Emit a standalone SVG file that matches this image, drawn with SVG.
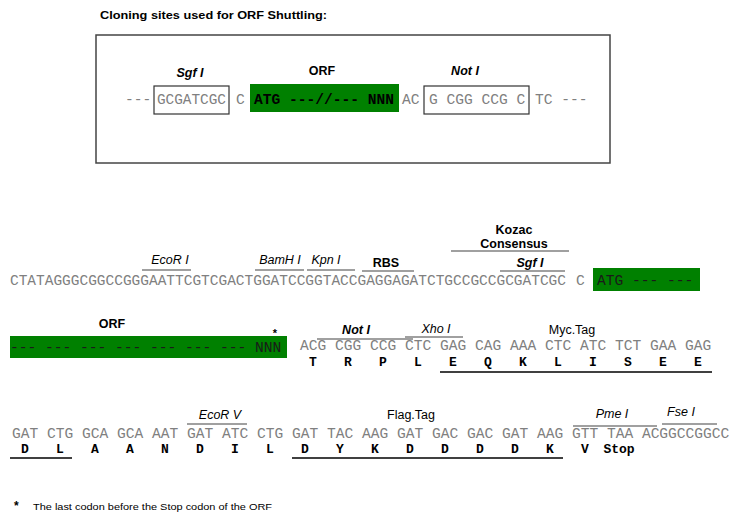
<svg xmlns="http://www.w3.org/2000/svg" width="734" height="523" viewBox="0 0 734 523">
<style>
.seq{font-family:"Liberation Mono","Courier New",monospace;font-size:14.58px;fill:#808080}
.dk{font-family:"Liberation Mono","Courier New",monospace;font-size:14.58px;fill:#1a1a1a}
.bseq{font-family:"Liberation Mono","Courier New",monospace;font-size:14.58px;font-weight:bold;fill:#000}
.aa{font-family:"Liberation Mono","Courier New",monospace;font-size:13px;font-weight:bold;fill:#000;text-anchor:middle}
.lab{font-family:"Liberation Sans",Arial,sans-serif;font-size:12.5px;fill:#000;text-anchor:middle}
.it{font-style:italic}
.b{font-weight:bold}
.ol{stroke:#808080;stroke-width:1.5;fill:none}
.ul{stroke:#000;stroke-width:1.5;fill:none}
.grn{fill:#008000}
.box{fill:none;stroke:#333;stroke-width:1.2}
</style>
<rect width="734" height="523" fill="#fff"/>

<g id="title">
<text x="100" y="19" font-family="Liberation Sans,Arial,sans-serif" font-size="11" font-weight="bold" textLength="227" lengthAdjust="spacingAndGlyphs">Cloning sites used for ORF Shuttling:</text>
</g>

<g id="shuttle-box">
<rect x="96" y="35" width="514" height="128" fill="none" stroke="#444" stroke-width="1.5"/>
<text class="lab it b" x="190" y="77" font-size="14">Sgf I</text>
<text class="lab b" x="322" y="75" font-size="14">ORF</text>
<text class="lab it b" x="465" y="75" font-size="14">Not I</text>
<text class="seq" x="125" y="104">---</text>
<rect class="box" x="154" y="86" width="75" height="28"/>
<text class="seq" x="157" y="104" textLength="69" lengthAdjust="spacingAndGlyphs">GCGATCGC</text>
<text class="seq" x="236" y="104">C</text>
<rect class="grn" x="250" y="84" width="149" height="28"/>
<text class="bseq" x="254" y="104" xml:space="preserve">ATG ---//--- NNN</text>
<text class="seq" x="402" y="104">AC</text>
<rect class="box" x="424" y="86" width="105" height="28"/>
<text class="seq" x="429" y="104" xml:space="preserve">G CGG CCG C</text>
<text class="seq" x="535" y="104" xml:space="preserve">TC ---</text>
</g>

<g id="row1">
<text class="seq" x="10" y="285" textLength="556" lengthAdjust="spacingAndGlyphs">CTATAGGGCGGCCGGGAATTCGTCGACTGGATCCGGTACCGAGGAGATCTGCCGCCGCGATCGC</text>
<text class="seq" x="576" y="285">C</text>
<rect class="grn" x="593" y="268" width="107" height="23"/>
<text class="dk" x="597" y="285" xml:space="preserve">ATG --- ---</text>
<text class="lab it" x="170" y="264">EcoR I</text>
<text class="lab it" x="280" y="264">BamH I</text>
<text class="lab it" x="326" y="264">Kpn I</text>
<text class="lab b" x="386" y="267" font-size="13.5">RBS</text>
<text class="lab it b" x="530" y="267" font-size="13.5">Sgf I</text>
<text class="lab b" x="514" y="234" font-size="13.5">Kozac</text>
<text class="lab b" x="514" y="248" font-size="9.5">Consensus</text>
</g>

<g id="row2">
<rect class="grn" x="10" y="336" width="277" height="22"/>
<text class="dk" x="10" y="352" xml:space="preserve">--- --- --- --- --- --- --- NNN</text>
<text x="275" y="337" font-family="Liberation Sans,Arial,sans-serif" font-size="11" font-weight="bold" text-anchor="middle">*</text>
<text class="lab b" x="112" y="328" font-size="13.5">ORF</text>
<text class="seq" x="300" y="350" xml:space="preserve">ACG CGG CCG CTC GAG CAG AAA CTC ATC TCT GAA GAG</text>
<text class="lab it b" x="356" y="334">Not I</text>
<text class="lab it" x="436" y="333">Xho I</text>
<text class="lab" x="572" y="334">Myc.Tag</text>
<text class="aa" x="313" y="366">T</text>
<text class="aa" x="348" y="366">R</text>
<text class="aa" x="383" y="366">P</text>
<text class="aa" x="418" y="366">L</text>
<text class="aa" x="453" y="366">E</text>
<text class="aa" x="488" y="366">Q</text>
<text class="aa" x="523" y="366">K</text>
<text class="aa" x="558" y="366">L</text>
<text class="aa" x="593" y="366">I</text>
<text class="aa" x="628" y="366">S</text>
<text class="aa" x="663" y="366">E</text>
<text class="aa" x="698" y="366">E</text>
</g>

<g id="row3">
<text class="seq" x="12" y="438" xml:space="preserve">GAT CTG GCA GCA AAT GAT ATC CTG GAT TAC AAG GAT GAC GAC GAT AAG GTT TAA ACGGCCGGCC</text>
<text class="lab it" x="220" y="419">EcoR V</text>
<text class="lab" x="411" y="419">Flag.Tag</text>
<text class="lab it" x="612" y="418" font-size="13.5">Pme I</text>
<text class="lab it" x="681" y="416">Fse I</text>
<text class="aa" x="25" y="453">D</text>
<text class="aa" x="60" y="453">L</text>
<text class="aa" x="95" y="453">A</text>
<text class="aa" x="130" y="453">A</text>
<text class="aa" x="165" y="453">N</text>
<text class="aa" x="200" y="453">D</text>
<text class="aa" x="235" y="453">I</text>
<text class="aa" x="270" y="453">L</text>
<text class="aa" x="305" y="453">D</text>
<text class="aa" x="340" y="453">Y</text>
<text class="aa" x="375" y="453">K</text>
<text class="aa" x="410" y="453">D</text>
<text class="aa" x="445" y="453">D</text>
<text class="aa" x="480" y="453">D</text>
<text class="aa" x="515" y="453">D</text>
<text class="aa" x="550" y="453">K</text>
<text class="aa" x="585" y="453">V</text>
<text class="aa" x="619" y="453" font-size="10">Stop</text>
</g>

<g id="connectors">
<line class="ol" x1="142" y1="270" x2="191" y2="270"/>
<line class="ol" x1="255" y1="270" x2="304" y2="270"/>
<line class="ol" x1="307" y1="270" x2="355" y2="270"/>
<line class="ol" x1="362" y1="271" x2="414" y2="271"/>
<line class="ol" x1="500" y1="271" x2="565" y2="271"/>
<line class="ol" x1="451" y1="251" x2="569" y2="251"/>
<line class="ol" x1="317" y1="339" x2="413" y2="339"/>
<line class="ol" x1="405" y1="337" x2="463" y2="337"/>
<line class="ol" x1="187" y1="424" x2="247" y2="424"/>
<line class="ol" x1="573" y1="426" x2="657" y2="426"/>
<line class="ol" x1="662" y1="424" x2="717" y2="424"/>
<line class="ul" x1="440" y1="372" x2="712" y2="372"/>
<line class="ul" x1="10" y1="458" x2="72" y2="458"/>
<line class="ul" x1="292" y1="458" x2="563" y2="458"/>
</g>

<g id="footnote">
<text x="14" y="510" font-family="Liberation Sans,Arial,sans-serif" font-size="12" font-weight="bold">*</text>
<text x="33" y="510" font-family="Liberation Sans,Arial,sans-serif" font-size="9.5" textLength="239" lengthAdjust="spacingAndGlyphs">The last codon before the Stop codon of the ORF</text>
</g>
</svg>
